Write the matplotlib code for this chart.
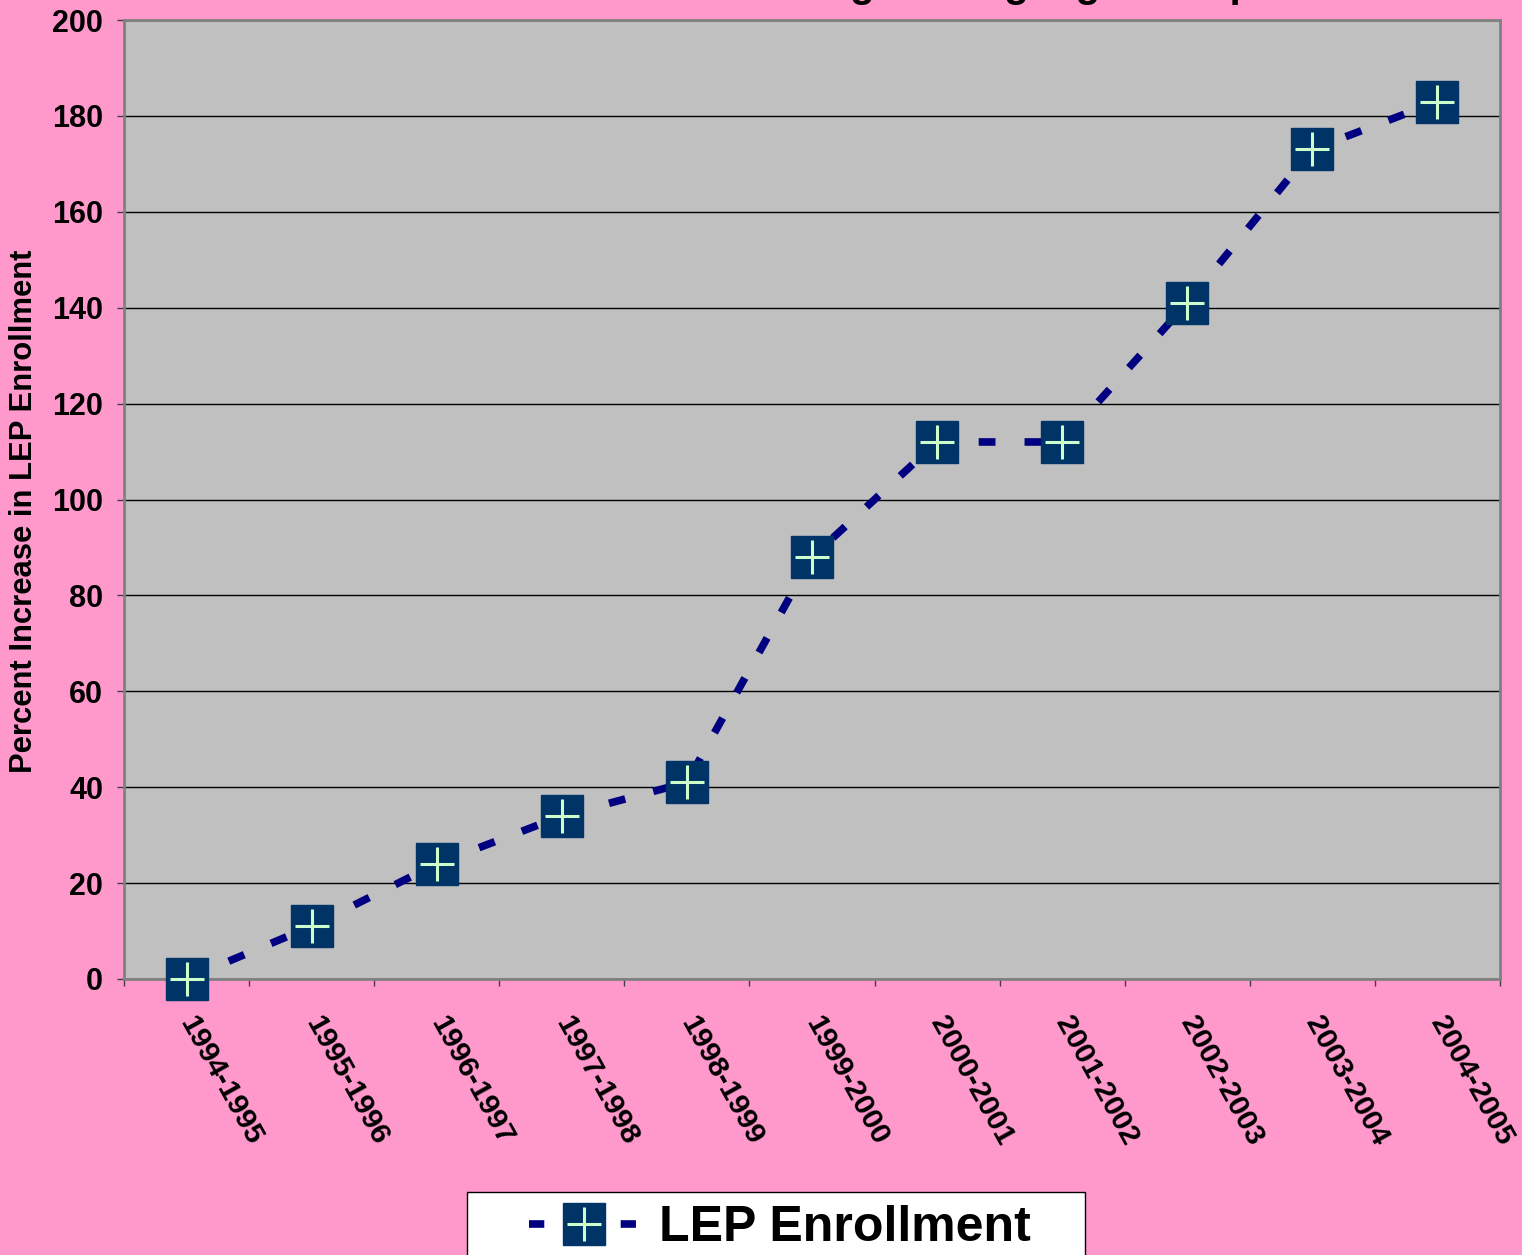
#!/usr/bin/env python
import matplotlib
matplotlib.use('Agg')
import matplotlib.pyplot as plt
from matplotlib.patches import Rectangle
from matplotlib.lines import Line2D

plt.rcParams['font.family'] = ['Liberation Sans', 'DejaVu Sans']
plt.rcParams['font.weight'] = 'bold'

# Data
years = ['1994-1995', '1995-1996', '1996-1997', '1997-1998', '1998-1999',
         '1999-2000', '2000-2001', '2001-2002', '2002-2003', '2003-2004',
         '2004-2005']
lep_increase = [0, 11, 24, 34, 41, 88, 112, 112, 141, 173, 183]
y_ticks = [0, 20, 40, 60, 80, 100, 120, 140, 160, 180, 200]

pink = '#FF99CC'
navy = '#000080'
box = '#003366'
cross = '#CCFFCC'

W, H = 1522, 1255
fig = plt.figure(figsize=(W / 100, H / 100), dpi=100, facecolor=pink)
ax = fig.add_axes([124 / W, 1 - 979 / H, (1500 - 124) / W, (979 - 20) / H])
ax.set_facecolor('#C0C0C0')

x = list(range(len(years)))

# Series
ax.plot(x, lep_increase, color=navy, lw=5.5, ls=(0, (2.2, 3.8)),
        dash_capstyle='butt', zorder=3)
ax.plot(x, lep_increase, ls='none', marker='s', ms=30, mfc=box, mec=box,
        zorder=4, clip_on=False)
ax.plot(x, lep_increase, ls='none', marker='+', ms=24, mew=2.2, color=cross,
        zorder=5, clip_on=False)

# Axes
ax.set_xlim(-0.5, len(years) - 0.5)
ax.set_ylim(0, 200)
ax.set_yticks(y_ticks)
ax.set_yticklabels([str(v) for v in y_ticks], fontsize=22, fontweight='bold')
ax.yaxis.grid(True, color='black', lw=1)
ax.set_axisbelow(True)
ax.tick_params(axis='y', length=5, width=1, color='#404040', pad=10)

ax.set_xticks(x)
ax.set_xticklabels(years, rotation=-61, ha='left', va='center',
                   rotation_mode='anchor', fontsize=21.5, fontweight='bold')
ax.set_xticks([i - 0.5 for i in range(len(years) + 1)], minor=True)
ax.tick_params(axis='x', which='major', length=0, pad=28)
ax.tick_params(axis='x', which='minor', length=5, width=1, color='#404040')

for s in ax.spines.values():
    s.set_color('#808080')
    s.set_linewidth(2)

ax.set_ylabel('Percent Increase in LEP Enrollment', fontsize=22.3,
              fontweight='bold', va='center')
ax.yaxis.set_label_coords(-0.0727, 0.488)

# Title (clipped at the top edge of the picture, as in the original)
fig.text(1277 / W, 1 + 3 / H,
         'Percent Increase in LEP Enrollment: Growing in Language Groups',
         ha='right', va='baseline', fontsize=29, fontweight='bold')

# Legend
fig.add_artist(Rectangle((467 / W, -0.02), (1085 - 467) / W, 0.02 + 1 - 1192 / H,
                         transform=fig.transFigure, facecolor='white',
                         edgecolor='black', lw=1, zorder=1))
h_line = Line2D([], [], color=navy, lw=5.5, ls=(0, (2.0, 4.0)),
                dash_capstyle='butt', marker='s', ms=30, mfc=box, mec=box)
h_cross = Line2D([], [], ls='none', marker='+', ms=24, mew=2.2, color=cross)
leg = fig.legend([(h_line, h_cross)], ['LEP Enrollment'], loc='center',
                 bbox_to_anchor=(780 / W, 1 - 1228 / H), frameon=False,
                 prop={'size': 36, 'weight': 'bold'}, handlelength=2.2,
                 handletextpad=0.4, numpoints=1, borderpad=0)
leg.set_zorder(2)

fig.savefig('out.png', dpi=100, facecolor=pink)
